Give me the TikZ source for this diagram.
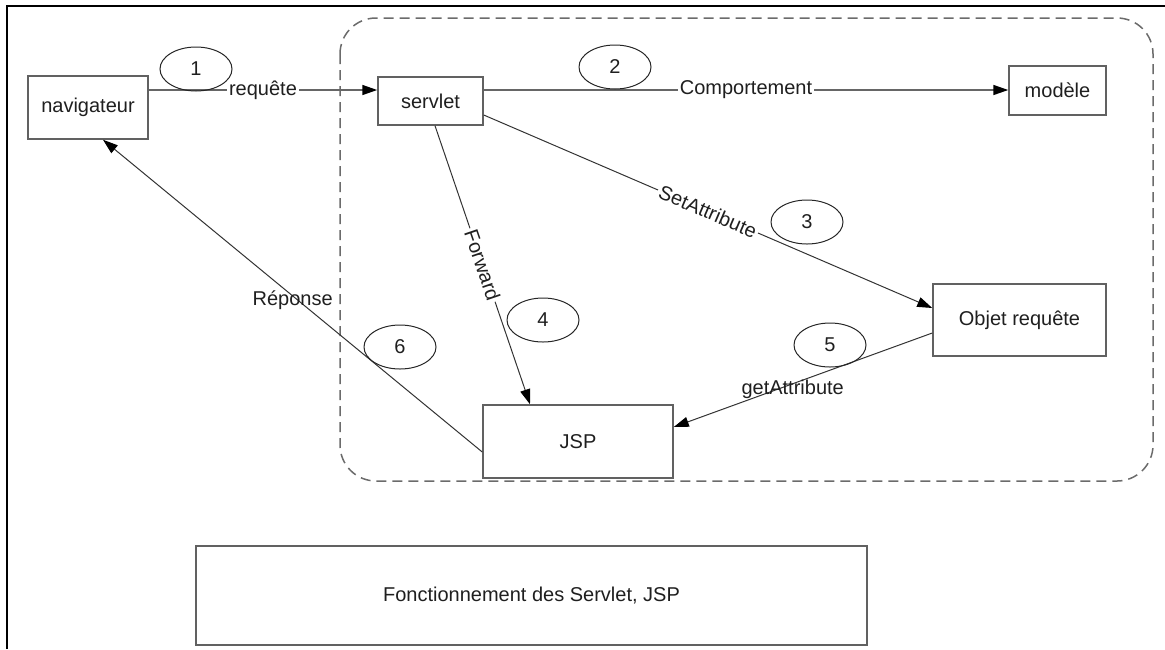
\documentclass[tikz,border=0pt]{standalone}
\usepackage{fontspec}
\setmainfont{Liberation Sans}
\usetikzlibrary{shapes.geometric,arrows.meta}

\definecolor{boxgray}{rgb}{0.38,0.38,0.38}
\definecolor{flowgray}{rgb}{0.40,0.40,0.40}
\definecolor{dashgray}{rgb}{0.42,0.42,0.42}
\definecolor{textgray}{rgb}{0.12,0.12,0.12}

\tikzset{
  boxnode/.style={draw=boxgray, line width=0.75pt, inner sep=0pt, text=textgray},
  stepnum/.style={draw=black!85, ellipse, line width=0.5pt, minimum width=36pt,
    minimum height=22pt, inner sep=0pt, text=textgray},
  flow/.style={draw=flowgray, line width=0.75pt,
    -{Triangle[length=7.5pt,width=5pt,color=black]}},
  link/.style={draw=black!80, line width=0.5pt,
    -{Triangle[length=7.5pt,width=5pt,color=black]}},
  onlabel/.style={fill=white, inner sep=1pt, text=textgray},
  offlabel/.style={inner sep=1pt, text=textgray},
}

\begin{document}
\begin{tikzpicture}[x=0.5pt, y=-0.5pt, font=\fontsize{10}{12}\selectfont]
\useasboundingbox (0,0) rectangle (1165,649);

% Drawing the outer frame
\draw [line width=1pt] (7,649) -- (7,6) -- (1165,6);%

% Drawing the container (dashed)
\draw [dashgray, line width=0.75pt, dash pattern=on 5pt off 3pt, rounded corners=18pt] (340,18) rectangle (1153,481);%

% Boxes
\node [boxnode, minimum width=60pt, minimum height=31.5pt] (navigateur) at (88,107.5) {navigateur};%
\node [boxnode, minimum width=52.5pt, minimum height=24pt] (servlet) at (430.5,101) {servlet};%
\node [boxnode, minimum width=48.5pt, minimum height=24.5pt] (modele) at (1057.5,90.5) {modèle};%
\node [boxnode, minimum width=86.5pt, minimum height=36pt] (objet) at (1019.5,320) {Objet requête};%
\node [boxnode, minimum width=95pt, minimum height=36.5pt] (jsp) at (578,441.5) {JSP};%

% Caption box
\node [boxnode, minimum width=335.5pt, minimum height=49.5pt] (legende) at (531.5,595.5) {Fonctionnement des Servlet, JSP};%

% Drawing line navigateur servlet
\draw [flow] ([yshift=8.75pt]navigateur.east) -- node [onlabel] {requête} ([yshift=5.5pt]servlet.west);%

% Drawing line servlet modele
\draw [flow] ([yshift=5.5pt]servlet.east) -- node [onlabel] {Comportement} ([yshift=0.25pt]modele.west);%

% Drawing line servlet jsp
\draw [link] ([xshift=2.25pt]servlet.south) -- node [onlabel, sloped] {Forward} ([xshift=-24pt]jsp.north);%

% Drawing line servlet objet
\draw [link] ([yshift=-7pt]servlet.east) -- node [onlabel, sloped] {SetAttribute} ([yshift=6pt]objet.west);%

% Drawing line objet jsp
\draw [link] ([yshift=-6.5pt]objet.west) -- node [offlabel, pos=0.54, yshift=-3pt] {getAttribute} ([yshift=7.25pt]jsp.east);%

% Drawing line jsp navigateur
\draw [link] ([yshift=-5.25pt]jsp.west) -- node [offlabel, midway, yshift=-2pt] {Réponse} ([xshift=7.5pt]navigateur.south);%

% Marking the steps by ellipses
\node [stepnum] (n1) at (196,69) {1};%
\node [stepnum] (n2) at (615,67) {2};%
\node [stepnum] (n3) at (807,222) {3};%
\node [stepnum] (n4) at (543,320) {4};%
\node [stepnum] (n5) at (830,345) {5};%
\node [stepnum] (n6) at (400,347) {6};%
\end{tikzpicture}
\end{document}
